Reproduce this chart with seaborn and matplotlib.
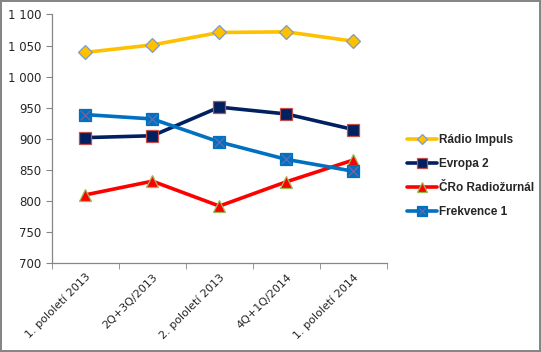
import matplotlib
matplotlib.use("Agg")
import matplotlib.pyplot as plt
import seaborn as sns
from matplotlib.ticker import FuncFormatter, FixedLocator
from matplotlib.legend_handler import HandlerTuple
from matplotlib.lines import Line2D

categories = ["1. pololetí 2013", "2Q+3Q/2013", "2. pololetí 2013", "4Q+1Q/2014", "1. pololetí 2014"]
impuls = [1039, 1051, 1071, 1072, 1057]
evropa2 = [902, 905, 951, 940, 915]
radiozurnal = [810, 832, 792, 831, 866]
frekvence1 = [939, 932, 895, 867, 848]

sns.set_style("white")
plt.rcParams["font.family"] = ["DejaVu Sans"]

fig, ax = plt.subplots(figsize=(5.41, 3.52), dpi=100)
fig.subplots_adjust(left=0.096, right=0.715, top=0.959, bottom=0.252)

series = [
    ("Rádio Impuls", impuls, "#FFC000", "D", 7, "#7F9CC0"),
    ("Evropa 2", evropa2, "#002060", "s", 8.5, "#C0504D"),
    ("ČRo Radiožurnál", radiozurnal, "#FF0000", "^", 8.5, "#9BBB59"),
    ("Frekvence 1", frekvence1, "#0070C0", "s", 9, "#0070C0"),
]

handles = []
for name, vals, col, mk, ms, edge in series:
    sns.lineplot(x=categories, y=vals, ax=ax, color=col, linewidth=2.6,
                 marker=mk, markersize=ms, markerfacecolor=col,
                 markeredgecolor=edge, markeredgewidth=0.9, sort=False)
    h = Line2D([], [], color=col, linewidth=2.6, marker=mk, markersize=ms - 2,
               markerfacecolor=col, markeredgecolor=edge, markeredgewidth=0.9)
    if name == "Frekvence 1":
        sns.scatterplot(x=categories, y=vals, ax=ax, marker="x", s=50,
                        color="#8064A2", linewidth=0.8, zorder=5)
        hx = Line2D([], [], linestyle="none", marker="x", markersize=5,
                    markeredgecolor="#8064A2", markeredgewidth=0.8)
        handles.append((h, hx))
    else:
        handles.append(h)

ax.set_ylim(700, 1100)
ax.set_xlim(-0.5, 4.5)
ax.set_yticks(range(700, 1101, 50))
ax.yaxis.set_major_formatter(FuncFormatter(lambda v, p: f"{int(v):,}".replace(",", " ")))
ax.set_xticks(range(len(categories)))
ax.set_xticklabels(categories, rotation=45, ha="right", rotation_mode="anchor")
ax.xaxis.set_minor_locator(FixedLocator([i - 0.5 for i in range(len(categories) + 1)]))
ax.tick_params(axis="x", which="major", length=0, labelsize=8, pad=6)
ax.tick_params(axis="x", which="minor", length=4, color="#868686", direction="out", bottom=True)
ax.tick_params(axis="y", length=4, color="#868686", direction="out", left=True, labelsize=8.5)
ax.set_xlabel("")
ax.set_ylabel("")
for s in ["top", "right"]:
    ax.spines[s].set_visible(False)
for s in ["left", "bottom"]:
    ax.spines[s].set_color("#868686")
    ax.spines[s].set_linewidth(0.9)

fig.legend(handles, [s[0] for s in series], loc="center left",
           bbox_to_anchor=(396 / 541, 1 - 176 / 352), frameon=False,
           handlelength=2.6, labelspacing=1.0, handletextpad=0.15,
           prop={"family": "Liberation Sans", "weight": "bold", "size": 8.5},
           handler_map={tuple: HandlerTuple(ndivide=1, pad=0)})

fig.patch.set_edgecolor("#868686")
fig.patch.set_linewidth(1.5)
fig.savefig("out.png", dpi=100, edgecolor=fig.get_edgecolor())
